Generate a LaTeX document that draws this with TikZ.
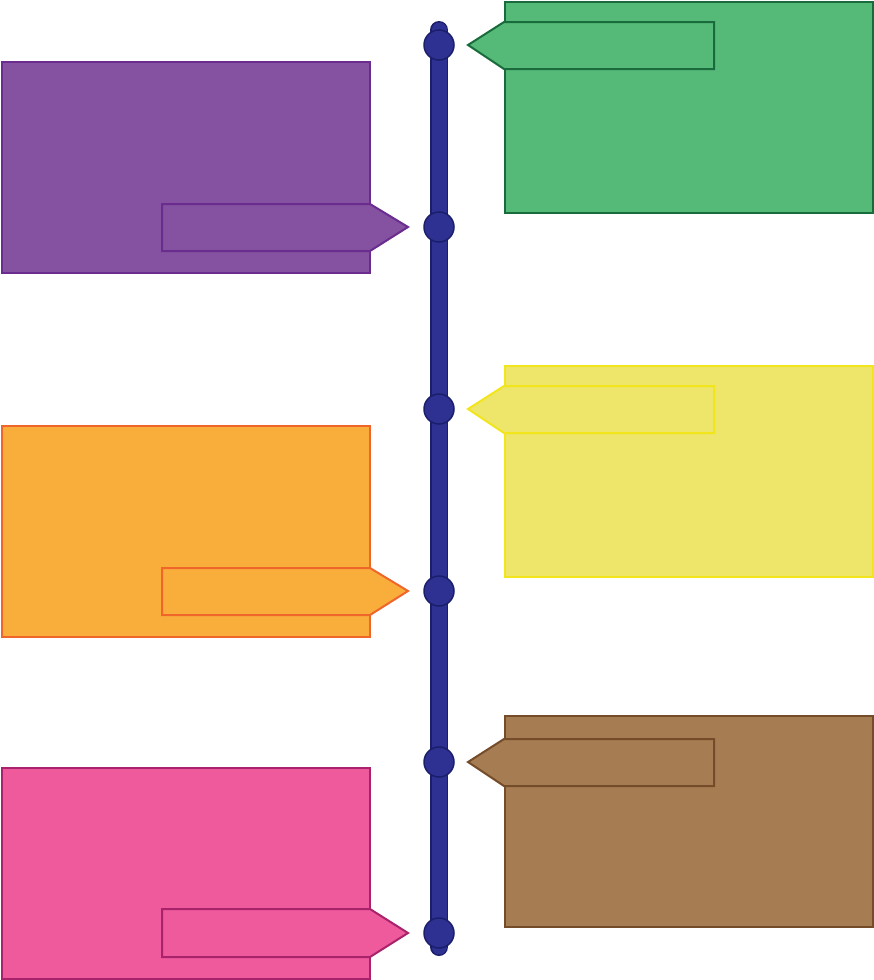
\documentclass[tikz,border=0pt]{standalone}
\usetikzlibrary{positioning}

\definecolor{navyfill}{HTML}{2E3192}
\definecolor{navyedge}{HTML}{1B1F6B}
\definecolor{purplefill}{HTML}{8452A1}
\definecolor{purpleedge}{HTML}{6A2C8E}
\definecolor{greenfill}{HTML}{55B978}
\definecolor{greenedge}{HTML}{1A6B3C}
\definecolor{yellowfill}{HTML}{EDE66A}
\definecolor{yellowedge}{HTML}{F2E51C}
\definecolor{orangefill}{HTML}{F9AE3B}
\definecolor{orangeedge}{HTML}{F0662A}
\definecolor{brownfill}{HTML}{A67C52}
\definecolor{brownedge}{HTML}{754C29}
\definecolor{pinkfill}{HTML}{EE5A9C}
\definecolor{pinkedge}{HTML}{A8236B}

\begin{document}
\begin{tikzpicture}[x=1pt,y=-1pt,
    card/.style={rectangle, draw=#1edge, fill=#1fill, line width=2pt, minimum width=368pt, minimum height=211pt, inner sep=0pt, anchor=north west},
    tab/.style={draw=#1edge, fill=#1fill, line width=2pt, line join=miter},
    dot/.style={circle, draw=navyedge, fill=navyfill, line width=1.5pt, minimum size=30pt, inner sep=0pt}]
        \useasboundingbox (0,0) rectangle (874,980);

        % cards
        \node[card=purple] (card1) at (1,61) {};
        \node[card=green] (card2) at (504,1) {};
        \node[card=orange] (card3) at (1,425) {};
        \node[card=yellow] (card4) at (504,365) {};
        \node[card=pink] (card5) at (1,767) {};
        \node[card=brown] (card6) at (504,715) {};

        % tabs
        \draw[tab=green] (468,45) -- (504,22) -- (714,22) -- (714,69) -- (504,69) -- cycle;
        \draw[tab=purple] (162,204) -- (370,204) -- (408,227) -- (370,251) -- (162,251) -- cycle;
        \draw[tab=yellow] (468,409) -- (504,386) -- (714,386) -- (714,433) -- (504,433) -- cycle;
        \draw[tab=orange] (162,568) -- (370,568) -- (408,591) -- (370,615) -- (162,615) -- cycle;
        \draw[tab=brown] (468,762) -- (504,739) -- (714,739) -- (714,786) -- (504,786) -- cycle;
        \draw[tab=pink] (162,909) -- (370,909) -- (408,933) -- (370,957) -- (162,957) -- cycle;

        % timeline
        \coordinate (top) at (439,30);
        \coordinate (bottom) at (439,947);
        \draw[line width=18pt, navyedge, line cap=round] (top) -- (bottom);
        \draw[line width=15pt, navyfill, line cap=round] (top) -- (bottom);

        \node[dot] (dot1) at (439,45) {};
        \node[dot] (dot2) at (439,227) {};
        \node[dot] (dot3) at (439,409) {};
        \node[dot] (dot4) at (439,591) {};
        \node[dot] (dot5) at (439,762) {};
        \node[dot] (dot6) at (439,933) {};
    \end{tikzpicture}
\end{document}
